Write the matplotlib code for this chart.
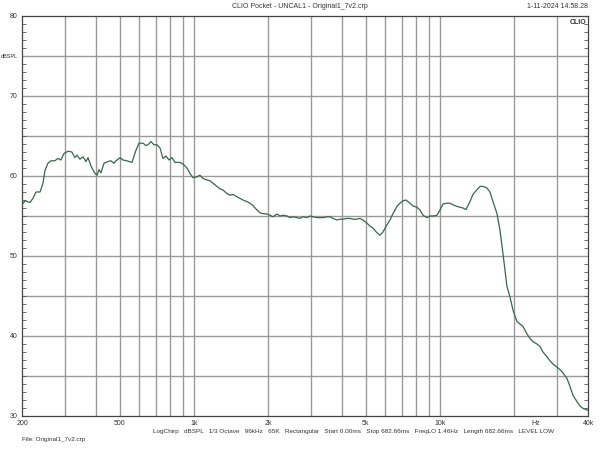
import numpy as np
import matplotlib.pyplot as plt
from matplotlib.ticker import FixedLocator, NullFormatter

plt.rcParams['font.family'] = ['Liberation Sans', 'DejaVu Sans']

freq_hz = [200, 205.7, 215.6, 221.6, 228, 236.8, 243.4, 248, 255, 262, 272, 280, 288, 296,
           308, 319, 328, 335, 344, 354, 364, 371, 382, 396, 404, 411, 419, 431, 447, 460,
           473, 482, 501, 515, 534, 560, 581, 598, 621, 638, 650, 669, 688, 708, 728, 748,
           770, 792, 814, 838, 878, 903, 937, 964, 991, 1029, 1058, 1088, 1130, 1162, 1195,
           1241, 1276, 1312, 1362, 1401, 1441, 1496, 1539, 1583, 1643, 1690, 1738, 1804,
           1856, 1909, 1981, 2038, 2096, 2176, 2238, 2302, 2390, 2458, 2528, 2624, 2699,
           2776, 2882, 2964, 3049, 3165, 3255, 3348, 3475, 3574, 3676, 3816, 3925, 4037,
           4191, 4309, 4432, 4600, 4732, 4867, 5052, 5196, 5345, 5548, 5706, 5869, 6092,
           6266, 6445, 6690, 6881, 7077, 7279, 7555, 7771, 8067, 8297, 8534, 8859, 9112,
           9372, 9729, 10006, 10291, 10683, 10988, 11301, 11731, 12066, 12410, 12763,
           13249, 13627, 14146, 14550, 14964, 15535, 15978, 16433, 17059, 17546, 18046,
           18733, 19267, 19815, 20570, 21156, 21760, 22589, 23233, 23895, 24806, 25513,
           26240, 27240, 28016, 28815, 29913, 30766, 31643, 32848, 33785, 34748, 36072,
           37100, 38158, 39612, 40000]
spl_db = [56.4, 56.9, 56.7, 57.2, 58.0, 58.0, 59.1, 60.7, 61.6, 61.9, 61.9, 62.2, 62.0, 62.8,
          63.1, 63.0, 62.3, 62.6, 62.1, 62.4, 61.8, 62.3, 61.2, 60.3, 60.1, 60.8, 60.4, 61.6,
          61.8, 61.9, 61.6, 61.9, 62.3, 62.0, 61.9, 61.7, 63.2, 64.1, 64.1, 63.8, 63.9, 64.3,
          63.9, 63.9, 63.5, 62.2, 62.5, 62.0, 62.3, 61.7, 61.7, 61.5, 61.0, 60.3, 59.8, 59.9,
          60.1, 59.7, 59.5, 59.4, 59.1, 58.7, 58.4, 58.25, 57.8, 57.6, 57.7, 57.4, 57.2, 57.0,
          56.8, 56.6, 56.3, 55.75, 55.4, 55.3, 55.25, 55.1, 54.9, 55.25, 55.0, 55.1, 55.0,
          54.8, 54.9, 54.8, 54.7, 54.9, 54.8, 55.0, 54.9, 54.8, 54.8, 54.8, 54.9, 54.9, 54.7,
          54.5, 54.6, 54.6, 54.7, 54.7, 54.6, 54.6, 54.7, 54.5, 54.1, 53.75, 53.5, 52.9, 52.6,
          53.0, 53.9, 54.5, 55.3, 56.2, 56.6, 56.9, 57.0, 56.6, 56.25, 56.1, 55.75, 55.1,
          54.8, 55.0, 55.0, 55.1, 55.75, 56.5, 56.6, 56.6, 56.4, 56.2, 56.1, 56.0, 55.8, 56.8,
          57.7, 58.3, 58.7, 58.7, 58.5, 58.0, 56.8, 55.3, 53.25, 50.3, 46.2, 44.9, 43.25,
          41.8, 41.5, 41.2, 40.25, 39.7, 39.3, 39.0, 38.7, 38.0, 37.4, 36.9, 36.5, 36.1, 35.8,
          35.4, 34.7, 33.7, 32.6, 31.8, 31.25, 30.96, 30.75, 30.7]

x_tick_pos = [200, 500, 1000, 2000, 5000, 10000, 24500, 40000]
x_tick_lbl = ['200', '500', '1k', '2k', '5k', '10k', 'Hz', '40k']
x_grid = [300, 400, 500, 600, 700, 800, 900, 1000, 2000, 3000, 4000, 5000, 6000, 7000,
          8000, 9000, 10000, 20000, 30000]
y_tick_pos = [30, 40, 50, 60, 70, 75, 80]
y_tick_lbl = ['30', '40', '50', '60', '70', 'dBSPL', '80']
y_grid = [35, 40, 45, 50, 55, 60, 65, 70, 75]

fig = plt.figure(figsize=(6, 4.5), dpi=100)
ax = fig.add_axes([22 / 600, 1 - 416 / 450, 566 / 600, 400 / 450])
ax.set_xscale('log')
ax.set_xlim(200, 40000)
ax.set_ylim(30, 80)

for g in x_grid:
    ax.axvline(g, color='#9a9a9a', lw=1.0, zorder=1)
for g in y_grid:
    ax.axhline(g, color='#9a9a9a', lw=1.0, zorder=1)

ax.plot(freq_hz, spl_db, color='#35684a', lw=0.9, zorder=3)

ax.xaxis.set_major_locator(FixedLocator(x_tick_pos))
ax.set_xticklabels(x_tick_lbl)
ax.xaxis.set_minor_formatter(NullFormatter())
ax.xaxis.set_minor_locator(FixedLocator([]))
ax.tick_params(axis='x', length=0, labelsize=5, pad=3, labelcolor='#333333')

ax.yaxis.set_major_locator(FixedLocator(y_tick_pos))
ax.set_yticklabels(y_tick_lbl)
ax.yaxis.set_minor_locator(FixedLocator(list(range(30, 81))))
ax.tick_params(axis='y', which='major', length=0, labelsize=5, pad=3, labelcolor='#333333')
ax.tick_params(axis='y', which='minor', direction='in', length=3, width=0.6,
               left=True, right=True, color='#555555')
for lbl in ax.get_yticklabels():
    if lbl.get_text() == 'dBSPL':
        lbl.set_fontsize(4)

for s in ax.spines.values():
    s.set_color('#444444')
    s.set_linewidth(0.9)

fig.text(0.5, 1 - 7 / 450, 'CLIO Pocket - UNCAL1 - Original1_7v2.crp', ha='center', va='center',
         fontsize=5, color='#333333')
fig.text(588 / 600, 1 - 7 / 450, '1-11-2024 14.58.28', ha='right', va='center', fontsize=5,
         color='#333333')
fig.text(586 / 600, 1 - 22 / 450, 'CLIO', ha='right', va='center', fontsize=5, fontweight='bold',
         color='#333333')
fig.text(153 / 600, 1 - 432 / 450,
         'LogChirp   dBSPL   1/3 Octave   96kHz   65K   Rectangular   Start 0.00ms   '
         'Stop 682.66ms   FreqLO 1.46Hz   Length 682.66ms   LEVEL LOW',
         ha='left', va='center', fontsize=4.6, color='#333333')
fig.text(22 / 600, 1 - 439 / 450, 'File: Original1_7v2.crp', ha='left', va='center', fontsize=4.6,
         color='#333333')

fig.savefig('out.png', dpi=100, facecolor='white')
